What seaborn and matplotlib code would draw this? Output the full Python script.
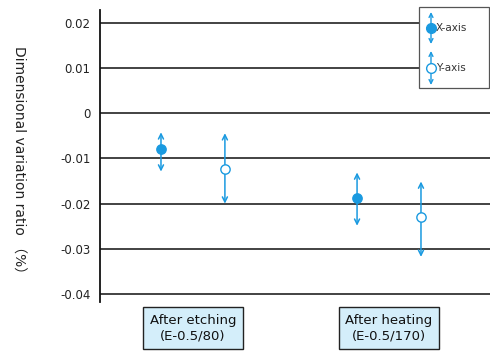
import matplotlib
matplotlib.use("Agg")
import matplotlib.pyplot as plt
import seaborn as sns
import pandas as pd
from matplotlib.patches import Rectangle
from matplotlib.lines import Line2D

sns.set_style("white")
plt.rcParams['font.family'] = ['DejaVu Sans', 'Noto Sans CJK JP']

categories = ["After etching\n(E-0.5/80)", "After heating\n(E-0.5/170)"]
series = ["X-axis", "Y-axis"]
x_mean = [-0.0080, -0.0187]
x_upper = [-0.0042, -0.0131]
x_lower = [-0.0129, -0.0249]
y_mean = [-0.0124, -0.0229]
y_upper = [-0.0044, -0.0151]
y_lower = [-0.0200, -0.0318]
yticks = [0.02, 0.01, 0, -0.01, -0.02, -0.03, -0.04]
ytick_labels = ["0.02", "0.01", "0", "-0.01", "-0.02", "-0.03", "-0.04"]

blue = "#1a9ae0"
offset = 0.163

rows = []
for i, c in enumerate(categories):
    rows.append(dict(pos=i - offset, val=x_mean[i], up=x_upper[i], lo=x_lower[i], s="X-axis"))
    rows.append(dict(pos=i + offset, val=y_mean[i], up=y_upper[i], lo=y_lower[i], s="Y-axis"))
df = pd.DataFrame(rows)

W, H = 490, 354
fig = plt.figure(figsize=(W / 100, H / 100), dpi=100)
ax = fig.add_axes([100 / W, (H - 302) / H, 390 / W, 292 / H])

ax.set_xlim(-0.474, 1.515)
ax.set_ylim(-0.0418, 0.0229)

for s in ["top", "right", "bottom"]:
    ax.spines[s].set_visible(False)
ax.spines["left"].set_color("#111")
ax.spines["left"].set_linewidth(1.3)
ax.set_yticks(yticks)
ax.set_yticklabels(ytick_labels, fontsize=8.5, color="#222")
ax.tick_params(axis="y", direction="out", length=4, width=1.2, color="#111", pad=3)
ax.set_xticks([])
ax.yaxis.grid(True, color="#222", lw=1.2)
ax.set_axisbelow(True)

# arrows (range bars)
for _, r in df.iterrows():
    for end in (r.up, r.lo):
        ax.annotate("", xy=(r.pos, end), xytext=(r.pos, r.val),
                    arrowprops=dict(arrowstyle="->", color=blue, lw=1.1,
                                    shrinkA=0, shrinkB=0, mutation_scale=9),
                    zorder=3)

sns.scatterplot(data=df[df.s == "X-axis"], x="pos", y="val", ax=ax, s=45,
                color=blue, edgecolor=blue, linewidth=1, zorder=4, legend=False)
sns.scatterplot(data=df[df.s == "Y-axis"], x="pos", y="val", ax=ax, s=45,
                facecolor="white", edgecolor=blue, linewidth=1, zorder=4, legend=False)
ax.set_xlabel("")
ax.set_ylabel("")

# category label boxes
for i, c in enumerate(categories):
    ax.text(i, -0.089, c, transform=ax.get_xaxis_transform(), ha="center", va="center",
            fontsize=9.5, color="#111", linespacing=1.25,
            bbox=dict(boxstyle="square,pad=0.5", fc="#d4eefa", ec="#222", lw=1.0))

# y label
fig.text(18 / W, 0.5 + 14 / H, "Dimensional variation ratio （%）", rotation=270,
         ha="center", va="center", fontsize=10, color="#222")

# legend box (figure pixel coordinates)
def fx(px):
    return px / W

def fy(py):
    return 1 - py / H

leg = Rectangle((fx(419), fy(88)), fx(489) - fx(419), fy(7) - fy(88),
                transform=fig.transFigure, fc="white", ec="#555", lw=0.9, zorder=10)
fig.add_artist(leg)
for cy, top, bot, filled, lab in [(28, 12, 44, True, "X-axis"), (68, 51, 85, False, "Y-axis")]:
    for end in (top, bot):
        fig.add_artist(matplotlib.patches.FancyArrowPatch(
            (fx(431), fy(cy)), (fx(431), fy(end)), transform=fig.transFigure,
            arrowstyle="->", color=blue, lw=1.0, mutation_scale=7, zorder=11,
            shrinkA=0, shrinkB=0))
    fig.add_artist(Line2D([fx(431)], [fy(cy)], transform=fig.transFigure, marker="o",
                          ms=7, mfc=blue if filled else "white", mec=blue, mew=1,
                          zorder=12))
    fig.text(fx(436), fy(cy), lab, ha="left", va="center", fontsize=7.5, color="#333",
             zorder=12)

fig.savefig("out.png", dpi=100)
